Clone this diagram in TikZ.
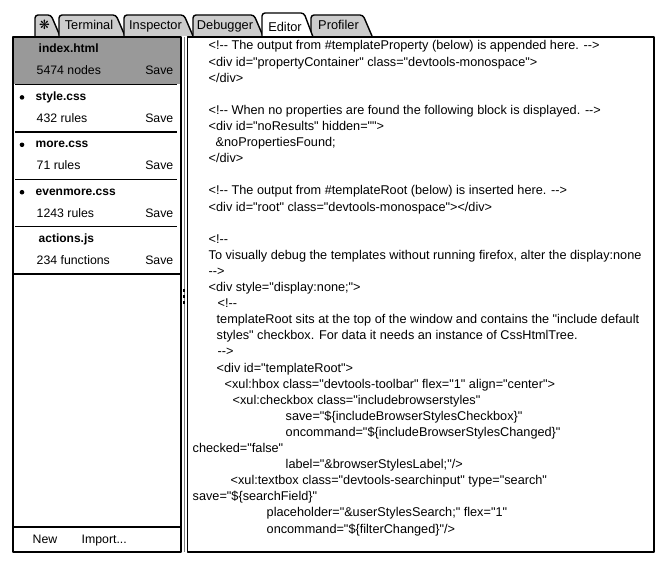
\documentclass[tikz,border=0pt]{standalone}
\usepackage{fontspec}
\setmainfont{Liberation Sans}[Ligatures=TeXOff]
\newfontfamily\symfont{DejaVu Sans}
\definecolor{tabgray}{gray}{0.8}
\definecolor{selgray}{gray}{0.6}
\tikzset{
  tablabel/.style={anchor=base, inner sep=0pt, font=\fontsize{12.8}{14}\selectfont},
  paneltext/.style={anchor=base west, inner sep=0pt, font=\fontsize{12.3}{14}\selectfont},
  filename/.style={paneltext, font=\fontsize{12}{14}\selectfont\bfseries},
  codeline/.style={anchor=base west, inner sep=0pt, font=\fontsize{12.7}{14}\selectfont}
}
\newcommand{\codeat}[3]{\node[codeline] (line#2) at (#1,{50+16.1*#2}) {#3};}
\begin{document}
\begin{tikzpicture}[x=1pt,y=-1pt,line width=1.4pt,line join=round]
    \useasboundingbox (0,0) rectangle (668,575);

    \foreach \l/\r/\name/\lab in {35/60/star/{\symfont ❋}, 59/125/terminal/Terminal, 124/193/inspector/Inspector, 193/263/debugger/Debugger, 311/372/profiler/Profiler} {
        \draw[fill=tabgray,rounded corners=3pt] (\l,36) -- (\l,15) -- ({\r-9},15) -- (\r,36);
        \node[tablabel] (\name) at ({(\l+\r)/2-3},30) {\lab};
    }
    \draw[fill=white,rounded corners=3pt] (262,37) -- (262,13) -- (304,13) -- (313,37);
    \node[tablabel] (editor) at (285,32) {Editor};

    \fill[selgray] (13,37) rectangle (181,84);
    \draw (13,37) rectangle (181,552);
    \foreach \file/\info/\dot [count=\i from 0] in {index.html/5474 nodes/0, style.css/432 rules/1, more.css/71 rules/1, evenmore.css/1243 rules/1, actions.js/234 functions/0} {
        \pgfmathsetmacro\top{37+47.4*\i}
        \pgfmathsetmacro\fx{38-3*\dot}
        \ifnum\dot=1 \fill (22,{\top+13}) circle (2.3); \fi
        \ifnum\i>0 \draw (15,\top) -- (177,\top); \fi
        \node[filename] (file\i) at (\fx,{\top+16}) {\file};
        \node[paneltext] (info\i) at (36,{\top+38}) {\info};
        \node[paneltext,anchor=base east] (save\i) at (174,{\top+38}) {Save};
    }
    \draw (13,274) -- (181,274);
    \draw (13,527) -- (181,527);
    \node[paneltext] (new) at (32,543) {New};
    \node[paneltext] (import) at (81,543) {Import...};

    \draw[gray,line width=1pt] (184.3,37) -- (184.3,552);
    \foreach \y in {289,295,301} {
        \fill (183.2,\y) rectangle (185.4,{\y+2.6});
    }

    \draw (187.5,37) rectangle (654,552);
    \codeat{208}{0}{<!-{}- The output from \#templateProperty (below) is appended here. -{}->}
    \codeat{208}{1}{<div id="propertyContainer" class="devtools-monospace">}
    \codeat{208}{2}{</div>}
    \codeat{208}{4}{<!-{}- When no properties are found the following block is displayed. -{}->}
    \codeat{208}{5}{<div id="noResults" hidden="">}
    \codeat{215}{6}{\&noPropertiesFound;}
    \codeat{208}{7}{</div>}
    \codeat{208}{9}{<!-{}- The output from \#templateRoot (below) is inserted here. -{}->}
    \codeat{208}{10}{<div id="root" class="devtools-monospace"></div>}
    \codeat{208}{12}{<!-{}-}
    \codeat{208}{13}{To visually debug the templates without running firefox, alter the display:none}
    \codeat{208}{14}{-{}->}
    \codeat{208}{15}{<div style="display:none;">}
    \codeat{217}{16}{<!-{}-}
    \codeat{216}{17}{templateRoot sits at the top of the window and contains the "include default}
    \codeat{216}{18}{styles" checkbox. For data it needs an instance of CssHtmlTree.}
    \codeat{217}{19}{-{}->}
    \codeat{216}{20}{<div id="templateRoot">}
    \codeat{224}{21}{<xul:hbox class="devtools-toolbar" flex="1" align="center">}
    \codeat{232}{22}{<xul:checkbox class="includebrowserstyles"}
    \codeat{285}{23}{save="\$\{includeBrowserStylesCheckbox\}"}
    \codeat{285}{24}{oncommand="\$\{includeBrowserStylesChanged\}"}
    \codeat{192}{25}{checked="false"}
    \codeat{285}{26}{label="\&browserStylesLabel;"/>}
    \codeat{230}{27}{<xul:textbox class="devtools-searchinput" type="search"}
    \codeat{192}{28}{save="\$\{searchField\}"}
    \codeat{266}{29}{placeholder="\&userStylesSearch;" flex="1"}
    \codeat{266}{30}{oncommand="\$\{filterChanged\}"/>}
\end{tikzpicture}
\end{document}
